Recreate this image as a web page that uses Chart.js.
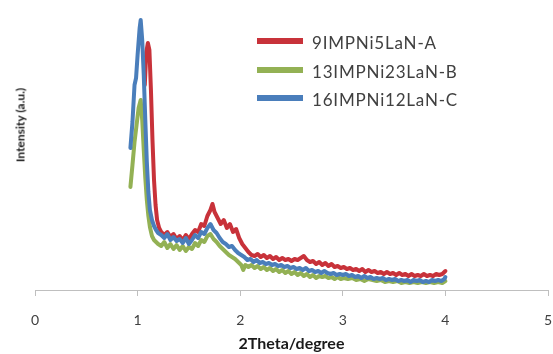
<!DOCTYPE html>
<html>
<head>
<meta charset="utf-8">
<script src="https://cdn.jsdelivr.net/npm/chart.js@4"></script>
<style>
    html, body { margin: 0; padding: 0; background: #ffffff; }
    #wrap { position: relative; width: 553px; height: 354px; overflow: hidden; }
    #chart { position: absolute; left: 0; top: 0; }
    .ytitle {
        position: absolute; left: 20px; top: 125px;
        transform: translate(-50%, -50%) rotate(-90deg);
        font: bold 12px Lato, "Open Sans", sans-serif; color: #1a1a1a; white-space: nowrap;
    }
    .legend-row { position: absolute; left: 257px; height: 0; }
    .legend-row .swatch { position: absolute; left: 0; top: -3px; width: 46px; height: 6px; }
    .legend-row .label {
        position: absolute; left: 55px; top: -8px; white-space: nowrap; letter-spacing: 0.8px;
        font: 17px Lato, "Open Sans", sans-serif; color: #404040; line-height: 20px;
    }
</style>
</head>
<body>
<div id="wrap">
    <canvas id="chart" width="553" height="354"></canvas>
    <div class="ytitle">Intensity (a.u.)</div>
    <div id="legend"></div>
</div>
<script>
// XRD patterns (intensity in arbitrary units)
const seriesNames = ['9IMPNi5LaN-A', '13IMPNi23LaN-B', '16IMPNi12LaN-C'];
const seriesColors = ['#C8323A', '#93B154', '#4A7EBB'];
const xTicks = [0, 1, 2, 3, 4, 5];

const xA = [1.07, 1.085, 1.10, 1.115, 1.13, 1.145, 1.16, 1.175, 1.19, 1.21, 1.23,
    1.26, 1.29, 1.32, 1.35, 1.38, 1.41, 1.44, 1.47, 1.50, 1.53, 1.56, 1.59, 1.62, 1.65, 1.68,
    1.71, 1.73, 1.75, 1.78, 1.81, 1.84, 1.87, 1.90, 1.93, 1.96, 1.99, 2.02, 2.05, 2.08, 2.11,
    2.14, 2.17, 2.20, 2.23, 2.26, 2.29, 2.32, 2.35, 2.38, 2.41, 2.44, 2.47, 2.50, 2.53, 2.56,
    2.59, 2.62, 2.65, 2.68, 2.71, 2.74, 2.77, 2.80, 2.83, 2.86, 2.89, 2.92, 2.95, 2.98, 3.01,
    3.04, 3.07, 3.10, 3.13, 3.16, 3.19, 3.22, 3.25, 3.28, 3.31, 3.34, 3.37, 3.40, 3.43, 3.46,
    3.49, 3.52, 3.55, 3.58, 3.61, 3.64, 3.67, 3.70, 3.73, 3.76, 3.79, 3.82, 3.85, 3.88, 3.91,
    3.94, 3.97, 4.00];
const yA = [205, 238, 247, 240, 200, 150, 110, 85, 70, 62, 58,
    55, 58, 53, 56, 51, 54, 50, 55, 51, 56, 60, 58, 66, 64, 74,
    80, 86, 78, 72, 66, 70, 62, 66, 58, 61, 52, 46, 42, 38, 35,
    34, 36, 33, 35, 32, 34, 31, 33, 30, 32, 30, 31, 29, 31, 30,
    32, 34, 30, 28, 29, 26, 28, 25, 27, 24, 26, 23, 24, 22, 23,
    21, 22, 20, 21, 19, 21, 18, 20, 18, 19, 17, 18, 16, 18, 16,
    17, 15, 17, 15, 16, 14, 16, 14, 15, 14, 16, 14, 15, 14, 16,
    15, 16, 19];

const xB = [0.93, 0.95, 0.97, 0.99, 1.01, 1.03, 1.045, 1.06, 1.075, 1.09, 1.105, 1.12, 1.14,
    1.16, 1.18, 1.20, 1.23, 1.26, 1.29, 1.32, 1.35, 1.38, 1.41, 1.44, 1.47, 1.50, 1.53, 1.56,
    1.59, 1.62, 1.65, 1.68, 1.71, 1.74, 1.77, 1.80, 1.83, 1.86, 1.89, 1.92, 1.95, 1.98, 2.01,
    2.03, 2.05, 2.08, 2.11, 2.14, 2.17, 2.20, 2.23, 2.26, 2.29, 2.32, 2.35, 2.38, 2.41, 2.44,
    2.47, 2.50, 2.53, 2.56, 2.59, 2.62, 2.65, 2.68, 2.71, 2.74, 2.77, 2.80, 2.83, 2.86, 2.89,
    2.92, 2.95, 2.98, 3.01, 3.05, 3.09, 3.13, 3.17, 3.21, 3.25, 3.29, 3.33, 3.37, 3.41, 3.45,
    3.49, 3.53, 3.57, 3.61, 3.65, 3.69, 3.73, 3.77, 3.81, 3.85, 3.89, 3.93, 3.97, 4.00];
const yB = [103, 125, 148, 165, 182, 190, 170, 140, 112, 90, 74, 63, 54,
    50, 48, 46, 44, 48, 42, 46, 41, 45, 40, 44, 39, 43, 41, 47,
    44, 50, 48, 54, 56, 51, 48, 44, 41, 38, 35, 33, 31, 28, 25,
    20, 25, 23, 25, 22, 24, 21, 23, 20, 22, 19, 21, 18, 20, 17,
    19, 16, 18, 15, 17, 14, 16, 13, 15, 12, 14, 13, 14, 12, 13,
    11, 13, 11, 12, 11, 12, 10, 11, 9, 11, 10, 9, 10, 8, 9,
    8, 9, 7, 8, 7, 8, 7, 8, 7, 8, 7, 8, 7, 9];

const xC = [0.93, 0.95, 0.97, 0.985, 1.00, 1.02, 1.03, 1.045, 1.06, 1.075, 1.09, 1.105, 1.12,
    1.14, 1.16, 1.18, 1.20, 1.23, 1.26, 1.29, 1.32, 1.35, 1.38, 1.41, 1.44, 1.47, 1.50, 1.53,
    1.56, 1.59, 1.62, 1.65, 1.68, 1.71, 1.74, 1.77, 1.80, 1.83, 1.86, 1.89, 1.92, 1.95, 1.98,
    2.01, 2.04, 2.07, 2.10, 2.13, 2.16, 2.19, 2.22, 2.25, 2.28, 2.31, 2.34, 2.37, 2.40, 2.43,
    2.46, 2.49, 2.52, 2.55, 2.58, 2.61, 2.64, 2.67, 2.70, 2.73, 2.76, 2.79, 2.82, 2.85, 2.88,
    2.91, 2.94, 2.97, 3.00, 3.03, 3.06, 3.09, 3.12, 3.15, 3.18, 3.21, 3.24, 3.27, 3.30, 3.33,
    3.36, 3.39, 3.42, 3.45, 3.48, 3.51, 3.54, 3.57, 3.60, 3.63, 3.66, 3.69, 3.72, 3.75, 3.78,
    3.81, 3.84, 3.87, 3.90, 3.93, 3.96, 3.99, 4.00];
const yC = [142, 168, 205, 212, 235, 262, 270, 250, 215, 170, 128, 98, 80,
    70, 64, 60, 57, 55, 52, 56, 50, 53, 49, 51, 47, 52, 46, 50,
    55, 52, 58, 56, 62, 66, 60, 57, 52, 48, 46, 43, 44, 40, 37,
    35, 33, 30, 31, 28, 30, 27, 28, 26, 27, 25, 26, 24, 25, 23,
    24, 22, 23, 21, 22, 20, 22, 19, 20, 18, 19, 17, 19, 17, 16,
    17, 15, 16, 15, 16, 14, 15, 13, 14, 12, 14, 12, 13, 11, 12,
    11, 12, 10, 11, 10, 11, 9, 10, 9, 10, 8, 10, 9, 10, 8,
    9, 8, 10, 9, 10, 9, 11, 13];

const xs = [xA, xB, xC];
const ys = [yA, yB, yC];

// legend rows (HTML text), same order as the series
const legendTops = [41, 70, 98];
const legendEl = document.getElementById('legend');
seriesNames.forEach((name, i) => {
    const row = document.createElement('div');
    row.className = 'legend-row';
    row.style.top = legendTops[i] + 'px';
    row.innerHTML = `<div class="swatch" style="background:${seriesColors[i]}"></div><div class="label">${name}</div>`;
    legendEl.appendChild(row);
});

const ctx = document.getElementById('chart').getContext('2d');
new Chart(ctx, {
    type: 'line',
    data: {
        datasets: seriesNames.map((name, i) => ({
            label: name,
            data: xs[i].map((x, j) => ({ x: x, y: ys[i][j] })),
            borderColor: seriesColors[i],
            borderWidth: 4,
            borderJoinStyle: 'round',
            borderCapStyle: 'round',
            pointRadius: 0,
            tension: 0,
            fill: false,
            // blue drawn on top, red at the bottom (like the original)
            order: 3 - i
        }))
    },
    options: {
        responsive: false,
        animation: false,
        devicePixelRatio: 1,
        layout: { padding: { left: 35, right: 5, top: 10, bottom: 0 } },
        plugins: { legend: { display: false }, tooltip: { enabled: false } },
        scales: {
            x: {
                type: 'linear',
                min: 0,
                max: 5,
                afterBuildTicks: scale => { scale.ticks = xTicks.map(v => ({ value: v })); },
                afterFit: scale => {
                    scale.height = 64;
                    // tick padding should not eat into the plot width
                    scale.paddingLeft = 0;
                    scale.paddingRight = 0;
                },
                grid: { drawOnChartArea: false, tickLength: 6, color: '#bfbfbf' },
                border: { color: '#bfbfbf', width: 1 },
                ticks: {
                    color: '#404040',
                    padding: 16,
                    maxRotation: 0,
                    font: { family: 'Lato, "Open Sans", sans-serif', size: 14 }
                },
                title: {
                    display: true,
                    text: '2Theta/degree',
                    color: '#1a1a1a',
                    padding: { top: 0, bottom: 1 },
                    font: { family: 'Lato, "Open Sans", sans-serif', size: 16, weight: 'bold' }
                }
            },
            y: {
                display: false,
                min: 0,
                max: 280
            }
        }
    }
});
</script>
</body>
</html>
